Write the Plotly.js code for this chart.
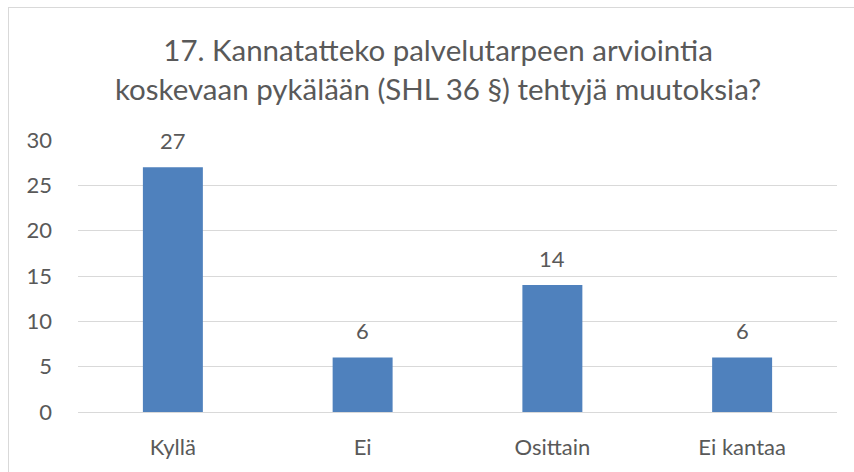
<!DOCTYPE html>
<html>
<head>
<meta charset="utf-8">
<script src="https://cdn.plot.ly/plotly-3.0.1.min.js"></script>
<style>
html,body{margin:0;padding:0;background:#fff;}
#wrap{position:relative;width:854px;height:472px;overflow:hidden;}
#frame{position:absolute;left:8px;top:7px;width:900px;height:500px;border-left:1px solid #D9D9D9;border-top:1px solid #D9D9D9;pointer-events:none;}
#chart{position:absolute;left:0;top:0;width:854px;height:472px;}
</style>
</head>
<body>
<div id="wrap"><div id="chart"></div><div id="frame"></div></div>
<script>
const categories = ["Kyllä", "Ei", "Osittain", "Ei kantaa"];
const values = [27, 6, 14, 6];
const yTicks = [0, 5, 10, 15, 20, 25, 30];
const titleLines = ["17. Kannatatteko palvelutarpeen arviointia", "koskevaan pykälään (SHL 36 §) tehtyjä muutoksia?"];

const fontFam = "Lato, 'Open Sans', sans-serif";
const txtCol = "#595959";

const trace = {
  type: "bar",
  x: categories,
  y: values,
  marker: {color: "#4F81BD"},
  width: 0.316,
  hoverinfo: "x+y"
};

const annotations = categories.map((c, i) => ({
  x: c, y: values[i], xref: "x", yref: "y",
  text: String(values[i]), showarrow: false,
  yanchor: "middle", yshift: 27,
  font: {family: fontFam, size: 22, color: txtCol}
}));

const layout = {
  width: 854, height: 472,
  margin: {l: 78, r: 17, t: 140, b: 60},
  paper_bgcolor: "rgba(0,0,0,0)",
  plot_bgcolor: "rgba(0,0,0,0)",
  showlegend: false,
  title: {
    text: titleLines.join("<br>"),
    font: {family: fontFam, size: 29.5, color: txtCol},
    x: 0.513, xref: "container", xanchor: "center",
    y: 0.87, yref: "container", yanchor: "top"
  },
  xaxis: {
    type: "category",
    tickfont: {family: fontFam, size: 22, color: txtCol},
    showgrid: false, showline: false, zeroline: false,
    ticks: "", ticklabelstandoff: 20
  },
  yaxis: {
    range: [0, 30],
    tickvals: yTicks,
    ticktext: yTicks.map(String),
    tickfont: {family: fontFam, size: 22, color: txtCol},
    showgrid: true, gridcolor: "#D9D9D9", gridwidth: 1,
    zeroline: true, zerolinecolor: "#D9D9D9", zerolinewidth: 1,
    showline: false, ticks: "", ticklabelstandoff: 25
  },
  annotations: annotations
};

Plotly.newPlot("chart", [trace], layout, {displayModeBar: false, staticPlot: true});
</script>
</body>
</html>
